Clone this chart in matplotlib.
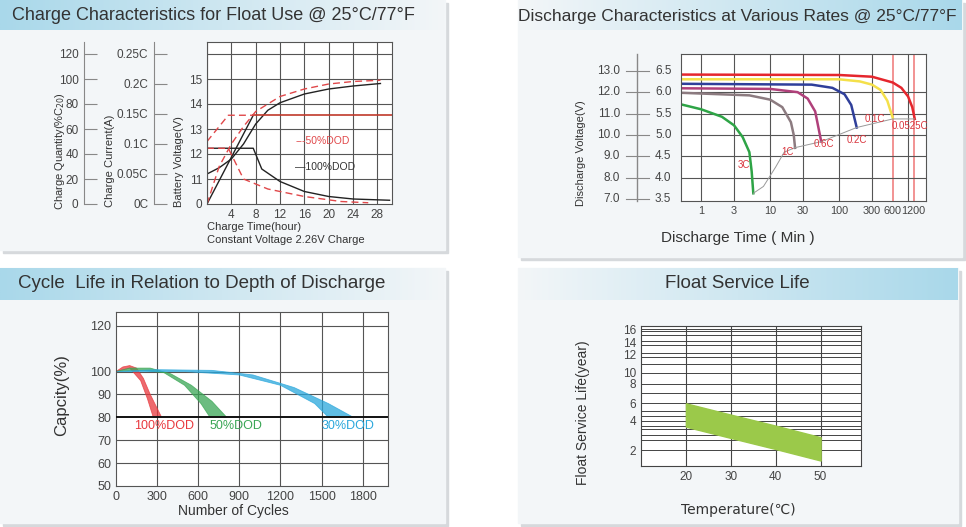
import numpy as np
import matplotlib.pyplot as plt
from matplotlib.patches import Rectangle
from matplotlib.scale import FuncScale
from matplotlib.colors import LinearSegmentedColormap

plt.rcParams['font.family'] = ['Liberation Sans', 'DejaVu Sans', 'Noto Sans CJK SC']

W, H = 966, 527
# ---- data: charge characteristics (time h, voltage-scale value) ----
t_v100 = [0, 2, 4, 6, 8, 10, 12, 16, 20, 24, 28.5]
v_v100 = [11.2, 11.45, 11.8, 12.4, 13.2, 13.75, 14.05, 14.4, 14.6, 14.72, 14.82]
t_v50 = [0, 2, 4, 6, 8, 12, 16, 20, 24, 28.5]
v_v50 = [10.0, 11.5, 12.4, 13.1, 13.7, 14.3, 14.6, 14.8, 14.9, 14.95]
t_q100 = [0, 7.6, 7.6]
v_q100 = [10.0, 13.55, 13.55]
t_q50 = [0, 3.5, 7.6]
v_q50 = [12.5, 13.55, 13.55]
t_c100 = [0, 7.6, 7.6, 9, 12, 16, 20, 24, 30]
v_c100 = [12.23, 12.23, 12.23, 11.4, 10.9, 10.5, 10.3, 10.2, 10.15]
t_c50 = [0, 3.5, 6, 10, 16, 22, 26.5]
v_c50 = [12.23, 12.23, 11.0, 10.6, 10.3, 10.1, 10.05]
qty_ticks = [0, 20, 40, 60, 80, 100, 120]
cur_ticks = [0, 0.05, 0.1, 0.15, 0.2, 0.25]
cur_labels = ['0C', '0.05C', '0.1C', '0.15C', '0.2C', '0.25C']

# ---- data: discharge curves (min, V) ----
dis = {
    '0.0525C': ([0.51, 100, 300, 600, 800, 1000, 1150, 1250], [12.82, 12.8, 12.72, 12.45, 12.2, 11.8, 11.3, 10.75], '#e5262d'),
    '0.1C': ([0.51, 100, 200, 300, 400, 500, 600], [12.6, 12.6, 12.5, 12.35, 12.1, 11.6, 10.8], '#f4e04a'),
    '0.2C': ([0.51, 40, 80, 120, 150, 180], [12.39, 12.35, 12.2, 11.9, 11.4, 10.35], '#2f3f9a'),
    '0.6C': ([0.51, 10, 25, 35, 45, 55], [12.18, 12.15, 12.0, 11.7, 11.1, 9.7], '#b0407a'),
    '1C': ([0.51, 5, 10, 15, 20, 22, 23], [11.97, 11.85, 11.65, 11.3, 10.6, 10.0, 9.4], '#8c7b80'),
    '3C': ([0.51, 1, 2, 3, 4, 5, 5.4, 5.7], [11.43, 11.2, 10.85, 10.45, 9.9, 9.2, 8.3, 7.28], '#2ea446'),
}
cut_t = [5.7, 8, 12, 16, 23, 55, 180, 600, 1250]
cut_v = [7.28, 7.6, 8.5, 9.2, 9.41, 9.69, 10.35, 10.75, 10.75]
dis_label_pos = {'3C': (4.2, 8.6), '1C': (18, 9.2), '0.6C': (60, 9.6), '0.2C': (180, 9.75),
                 '0.1C': (330, 10.75), '0.0525C': (1050, 10.4)}
v12_ticks = [7.0, 8.0, 9.0, 10.0, 11.0, 12.0, 13.0]
v6_labels = ['3.5', '4.0', '4.5', '5.0', '5.5', '6.0', '6.5']
time_ticks = [1, 3, 10, 30, 100, 300, 600, 1200]

# ---- data: cycle life bands ----
red_up_x = [0, 50, 100, 150, 200, 250, 333]
red_up_y = [100, 102, 102.6, 101.5, 97, 90, 80]
red_lo_x = [0, 100, 180, 230, 272]
red_lo_y = [100, 101.5, 96, 88, 80]
grn_up_x = [0, 100, 250, 400, 550, 700, 808]
grn_up_y = [100, 101.5, 101.5, 99, 94, 87, 80]
grn_lo_x = [0, 200, 350, 500, 620, 686]
grn_lo_y = [100, 100.5, 99.5, 94, 86, 80]
blu_up_x = [0, 300, 700, 1000, 1300, 1550, 1732]
blu_up_y = [100, 100.8, 100.5, 98.5, 93, 86, 80]
blu_lo_x = [0, 500, 900, 1200, 1450, 1550]
blu_lo_y = [100, 100, 98.5, 94, 86, 80]

# ---- data: float service life ----
temp = [20, 30, 40, 50]
life_hi = [6.0, 4.7, 3.67, 2.9]
life_lo = [3.6, 2.85, 2.11, 1.55]
life_ticks = [2, 4, 6, 8, 10, 12, 14, 16]
# the chart's hand-drawn y scale: value -> height knots
knot_v = [1.3, 2, 4, 6, 8, 10, 12, 14, 16, 16.5]
knot_h = [0, 15.3, 45.3, 62.7, 82, 93.7, 111.7, 123.7, 136, 140]
grid_h = [15.7, 26.3, 31.3, 37, 39.7, 45.3, 49.7, 54.7, 63, 73, 82.3, 93, 102.3,
          108.7, 113, 121.3, 125.3, 131.3, 134.7, 137]


def px(x0, y0, x1, y1):
    return fig.add_axes([x0 / W, 1 - y1 / H, (x1 - x0) / W, (y1 - y0) / H])


fig = plt.figure(figsize=(9.66, 5.27), dpi=100)
bg = fig.add_axes([0, 0, 1, 1])
bg.axis('off')
for (x0, y0, x1, y1) in [(0, 0, 445, 250), (518, 0, 962, 257), (0, 268, 445, 523), (518, 268, 958, 523)]:
    bg.add_patch(Rectangle((x0 + 3, y0 + 3), x1 - x0, y1 - y0, color='#d6d9dc', zorder=0))
    bg.add_patch(Rectangle((x0, y0), x1 - x0, y1 - y0, color='#f3f6f8', zorder=1))
grad = np.linspace(0, 1, 256).reshape(1, -1)
cm = LinearSegmentedColormap.from_list('band', ['#a9d8ea', '#f3f6f8'])
bg.imshow(grad, cmap=cm, extent=(0, 445, 30, 0), aspect='auto', zorder=2)
bg.imshow(grad[:, ::-1], cmap=cm, extent=(518, 962, 30, 0), aspect='auto', zorder=2)
bg.imshow(grad, cmap=cm, extent=(0, 445, 300, 268), aspect='auto', zorder=2)
bg.imshow(grad[:, ::-1], cmap=cm, extent=(518, 958, 300, 268), aspect='auto', zorder=2)
bg.text(12, 16, 'Charge Characteristics for Float Use @ 25°C/77°F', fontsize=13, va='center', color='#333', zorder=3)
bg.text(737, 16, 'Discharge Characteristics at Various Rates @ 25°C/77°F', fontsize=12.5, ha='center', va='center', color='#333', zorder=3)
bg.text(18, 283, 'Cycle  Life in Relation to Depth of Discharge', fontsize=13.5, va='center', color='#333', zorder=3)
bg.text(737, 283, 'Float Service Life', fontsize=13.5, ha='center', va='center', color='#333', zorder=3)
bg.set_xlim(0, W)
bg.set_ylim(H, 0)

gc = '#555555'
# ---------------- panel 1 ----------------
ax1 = px(207, 42, 392, 204)
ax1.set_facecolor('white')
ax1.set_xlim(0, 30.4)
ax1.set_ylim(10, 16.48)
ax1.set_xticks([4, 8, 12, 16, 20, 24, 28])
ax1.set_yticks([10, 11, 12, 13, 14, 15])
ax1.set_yticklabels(['0', '11', '12', '13', '14', '15'])
for x in range(0, 29, 4):
    ax1.axvline(x, color=gc, lw=0.8)
for y in range(11, 17):
    ax1.axhline(y, color=gc, lw=0.8)
ax1.tick_params(length=0, labelsize=8.5, colors='#444')
for s in ax1.spines.values():
    s.set_color(gc)
rd = '#e0484a'
ax1.plot(t_v100, v_v100, color='#222', lw=1)
ax1.plot(t_q100, v_q100, color='#222', lw=1)
ax1.plot([7.6, 30.4], [13.55, 13.55], color='#c0392b', lw=1.2)
ax1.plot(t_c100, v_c100, color='#222', lw=1)
ax1.plot(t_v50, v_v50, color=rd, lw=1, ls=(0, (5, 3)))
ax1.plot(t_q50, v_q50, color=rd, lw=1, ls=(0, (5, 3)))
ax1.plot(t_c50, v_c50, color=rd, lw=1, ls=(0, (5, 3)))
ax1.text(14.5, 12.5, '---50%DOD', color=rd, fontsize=7.5, va='center')
ax1.text(14.5, 11.5, '—100%DOD', color='#333', fontsize=7.5, va='center')
fig.text(207 / W, 1 - 227 / H, 'Charge Time(hour)', fontsize=8, va='center', color='#333')
fig.text(207 / W, 1 - 240 / H, 'Constant Voltage 2.26V Charge', fontsize=8, va='center', color='#333')
for xpos, vals, labs in [(84, [10 + q / 20 for q in qty_ticks], [str(q) for q in qty_ticks]),
                         (154, [10 + c * 24 for c in cur_ticks], cur_labels)]:
    a = px(xpos, 42, xpos + 20, 204)
    a.patch.set_alpha(0)
    a.set_ylim(10, 16.48)
    a.set_xticks([])
    for k in ['top', 'right', 'bottom']:
        a.spines[k].set_visible(False)
    a.spines['left'].set_color('#888')
    a.set_yticks(vals)
    a.set_yticklabels(labs)
    a.tick_params(axis='y', direction='in', length=9, color='#888', labelsize=8.5, labelcolor='#444', pad=4)
fig.text(60 / W, 1 - 151 / H, 'Charge Quantity(%C$_{20}$)', rotation=90, fontsize=8, ha='center', va='center', color='#333')
fig.text(110 / W, 1 - 161 / H, 'Charge Current(A)', rotation=90, fontsize=8, ha='center', va='center', color='#333')
fig.text(179 / W, 1 - 162 / H, 'Battery Voltage(V)', rotation=90, fontsize=8, ha='center', va='center', color='#333')

# ---------------- panel 2 ----------------
ax2 = px(681, 54, 926, 201)
ax2.set_facecolor('white')
ax2.set_xscale('log')
ax2.set_xlim(0.51, 1820)
ax2.set_ylim(6.92, 13.78)
for x in [1, 3, 10, 30, 100, 300, 1000]:
    ax2.axvline(x, color=gc, lw=0.8)
for x in [600, 1200]:
    ax2.axvline(x, color='#f08080', lw=1.2)
for y in [8, 9, 10, 11, 12]:
    ax2.axhline(y, color=gc, lw=0.8)
ax2.set_xticks(time_ticks)
ax2.set_xticklabels([str(t) for t in time_ticks])
ax2.minorticks_off()
ax2.set_yticks([])
ax2.tick_params(length=0, labelsize=7.8, colors='#444')
for s in ax2.spines.values():
    s.set_color(gc)
for name, (xs, ys, c) in dis.items():
    ax2.plot(xs, ys, color=c, lw=1.8)
    lx, ly = dis_label_pos[name]
    ax2.text(lx, ly, name, color='#d9363e', fontsize=7, ha='center', va='center')
ax2.plot(cut_t, cut_v, color='#999', lw=0.7)
yt = ax2.get_yaxis_transform()
ax2.plot([-0.1796, -0.1796], [6.92, 13.78], transform=yt, color='#888', lw=1, clip_on=False)
for v, lab in zip(v12_ticks, v6_labels):
    ax2.plot([-0.2245, -0.1306], [v, v], transform=yt, color='#888', lw=0.8, clip_on=False)
    ax2.text(-0.249, v, f'{v:.1f}', transform=yt, ha='right', va='center', fontsize=8.5, color='#444')
    ax2.text(-0.106, v, lab, transform=yt, ha='left', va='center', fontsize=8.5, color='#444')
fig.text(581 / W, 1 - 153 / H, 'Discharge Voltage(V)', rotation=90, fontsize=8, ha='center', va='center', color='#333')
fig.text(738 / W, 1 - 238 / H, 'Discharge Time ( Min )', fontsize=11, ha='center', va='center', color='#333')

# ---------------- panel 3 ----------------
ax3 = px(116, 312, 388, 486)
ax3.set_facecolor('white')
ax3.set_xlim(0, 1985)
ax3.set_ylim(50, 126)
ax3.set_xticks([0, 300, 600, 900, 1200, 1500, 1800])
ax3.set_yticks([50, 60, 70, 80, 90, 100, 120])
for x in [300, 600, 900, 1200, 1500, 1800]:
    ax3.axvline(x, color=gc, lw=0.8)
for y in [60, 70, 90, 100, 120]:
    ax3.axhline(y, color=gc, lw=0.8)
ax3.axhline(80, color='#111', lw=1.4, zorder=3)
ax3.tick_params(length=0, labelsize=9, colors='#444')
for s in ax3.spines.values():
    s.set_color(gc)
for ux, uy, lx, ly, c in [(red_up_x, red_up_y, red_lo_x, red_lo_y, '#e8383d'),
                          (grn_up_x, grn_up_y, grn_lo_x, grn_lo_y, '#3aa655'),
                          (blu_up_x, blu_up_y, blu_lo_x, blu_lo_y, '#2aa7dc')]:
    ax3.fill(list(ux) + list(lx)[::-1], list(uy) + list(ly)[::-1], color=c, alpha=0.75, lw=0.6, zorder=2)
ax3.text(350, 76, '100%DOD', color='#e8383d', fontsize=9, ha='center', va='center')
ax3.text(876, 76, '50%DOD', color='#3aa655', fontsize=9, ha='center', va='center')
ax3.text(1693, 76, '30%DOD', color='#2aa7dc', fontsize=9, ha='center', va='center')
fig.text(62 / W, 1 - 395 / H, 'Capcity(%)', rotation=90, fontsize=12, ha='center', va='center', color='#333')
fig.text(233 / W, 1 - 511 / H, 'Number of Cycles', fontsize=10, ha='center', va='center', color='#333')

# ---------------- panel 4 ----------------
ax4 = px(641, 326, 861, 466)
ax4.set_facecolor('white')
fwd = lambda v: np.interp(v, knot_v, knot_h)
inv = lambda h: np.interp(h, knot_h, knot_v)
ax4.set_yscale(FuncScale(ax4.yaxis, (fwd, inv)))
ax4.set_ylim(1.3, 16.5)
ax4.set_xlim(10, 59)
for hgt in grid_h:
    ax4.axhline(inv(hgt), color='#444', lw=0.7)
for x in temp:
    ax4.axvline(x, color='#444', lw=0.8)
ax4.set_yticks(life_ticks)
ax4.set_yticklabels([str(v) for v in life_ticks])
ax4.set_xticks(temp)
ax4.minorticks_off()
ax4.tick_params(length=0, labelsize=8.5, colors='#444')
for s in ax4.spines.values():
    s.set_color('#444')
ax4.fill_between(temp, life_lo, life_hi, color='#9bc94a', zorder=3)
fig.text(583 / W, 1 - 413 / H, 'Float Service Life(year)', rotation=90, fontsize=10, ha='center', va='center', color='#333')
fig.text(738 / W, 1 - 510 / H, 'Temperature(℃)', fontsize=10, ha='center', va='center', color='#333',
         family=['DejaVu Sans', 'Noto Sans CJK SC'])

fig.savefig('out.png', dpi=100)
